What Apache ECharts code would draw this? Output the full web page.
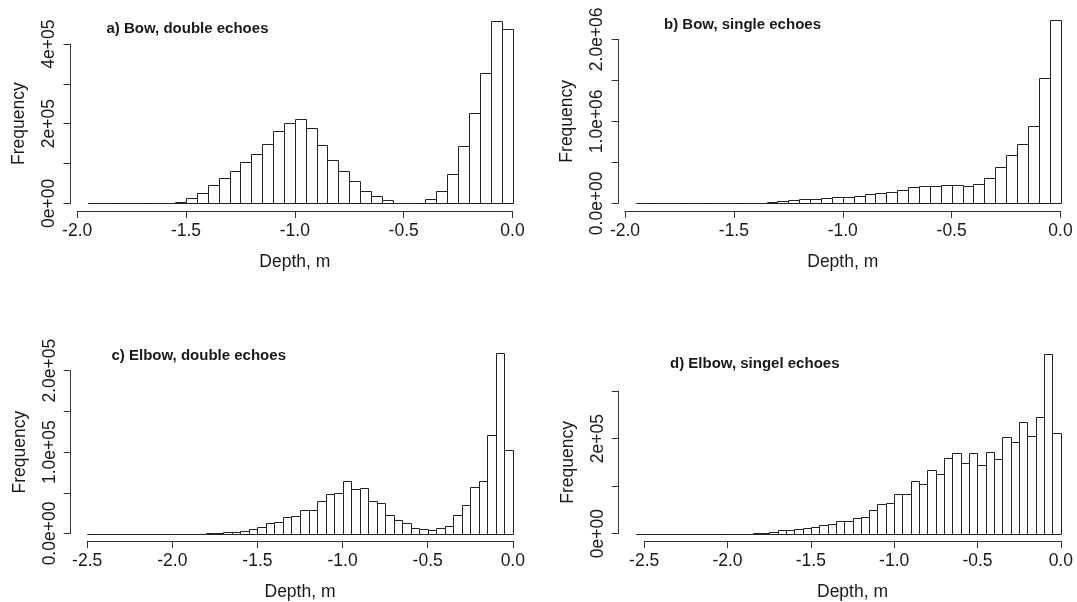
<!DOCTYPE html>
<html><head><meta charset="utf-8">
<script src="https://cdn.jsdelivr.net/npm/echarts@6/dist/echarts.min.js"></script>
<style>html,body{margin:0;padding:0;background:#fff}#c{width:1077px;height:602px}</style>
</head><body><div id="c"></div>
<script>
// ---------- data ----------
const binWidth = 0.05;
const startA = -1.95, startB = -1.95, startC = -2.5, startD = -2.55;

const countsA = [0,0,0,0,0,0,
  1000,2000,4000,12500,27000,46000,63000,82000,105000,123000,148000,182000,203000,211000,
  188000,146000,108000,82000,55000,32000,18000,7500,1500,1000,1000,10000,30000,73000,
  143000,228000,328000,459000,437000];
const countsB = [0,0,0,0,0,0,0,0,0,
  2000,3000,4000,16000,25000,37000,49000,49000,61000,78000,78000,90000,114000,127000,
  143000,159000,196000,216000,216000,224000,224000,216000,233000,306000,441000,584000,
  727000,943000,1531000,2237000];
const countsC = [0,0,0,0,0,0,0,0,0,0,0,0,0,0,
  800,1000,2000,2400,3600,6000,8000,12900,14500,20000,21000,29000,29000,40300,48800,49600,
  64500,55200,56000,40300,37500,22600,16900,12900,6500,5600,4400,7300,9300,22600,34700,
  56900,64900,120600,222000,102800];
const countsD = [0,0,0,0,0,0,0,0,0,0,0,0,0,0,
  1400,2000,4000,7000,7500,10000,12000,14000,19000,21000,27000,26000,34000,36000,49000,
  63000,64000,84000,84000,110000,104000,133000,126000,160000,170000,149000,170000,145000,
  172000,156000,203000,192000,234000,205000,246000,377000,212000];

const yTickValuesA = [0, 200000, 400000];
const yTickLabelsA = ['0e+00', '2e+05', '4e+05'];
const yTickValuesB = [0, 1000000, 2000000];
const yTickLabelsB = ['0.0e+00', '1.0e+06', '2.0e+06'];
const yTickValuesC = [0, 100000, 200000];
const yTickLabelsC = ['0.0e+00', '1.0e+05', '2.0e+05'];
const yTickValuesD = [0, 200000];
const yTickLabelsD = ['0e+00', '2e+05'];

const titles = ['a) Bow, double echoes', 'b) Bow, single echoes',
                'c) Elbow, double echoes', 'd) Elbow, singel echoes'];
const xName = 'Depth, m';
const yName = 'Frequency';

// ---------- layout ----------
const panels = [
  {start:startA, counts:countsA, yv:yTickValuesA, yl:yTickLabelsA,
   grid:{left:77.2, top:44.1, width:435.3, height:159.2}, xMin:-2, yMax:400000, yInt:100000,
   xOff:7.7, yOff:6.7, tl:[106.5, 21.5]},
  {start:startB, counts:countsB, yv:yTickValuesB, yl:yTickLabelsB,
   grid:{left:625, top:39.3, width:435.5, height:164}, xMin:-2, yMax:2000000, yInt:500000,
   xOff:7.6, yOff:6.5, tl:[664, 17]},
  {start:startC, counts:countsC, yv:yTickValuesC, yl:yTickLabelsC,
   grid:{left:87.2, top:370.7, width:425.6, height:165.3}, xMin:-2.5, yMax:200000, yInt:50000,
   xOff:7.5, yOff:16.5, tl:[111.5, 348]},
  {start:startD, counts:countsD, yv:yTickValuesD, yl:yTickLabelsD,
   grid:{left:644.2, top:391, width:416.6, height:145}, xMin:-2.5, yMax:300000, yInt:100000,
   xOff:7.3, yOff:25.5, tl:[670, 356]}
];

const FONT = '"Liberation Sans", Arial, sans-serif';
const LINE = '#333';
const TXT = '#1a1a1a';

function bins(start, counts) {
  return counts.map((c, i) => [+(start + i * binWidth).toFixed(2), +(start + (i + 1) * binWidth).toFixed(2), c]);
}

const option = {
  animation: false,
  backgroundColor: '#fff',
  title: panels.map((p, i) => ({
    text: titles[i], left: p.tl[0], top: p.tl[1], padding: 0,
    textStyle: {fontFamily: FONT, fontWeight: 'bold', fontSize: 15, color: TXT}
  })),
  grid: panels.map(p => Object.assign({containLabel: false}, p.grid)),
  xAxis: panels.map((p, i) => ({
    type: 'value', gridIndex: i, min: p.xMin, max: 0, interval: 0.5,
    position: 'bottom', offset: p.xOff,
    name: xName, nameLocation: 'middle', nameGap: 42,
    nameTextStyle: {fontFamily: FONT, fontSize: 17.5, color: TXT},
    axisLine: {show: true, onZero: false, lineStyle: {color: LINE, width: 1}},
    axisTick: {show: true, length: 7, lineStyle: {color: LINE}},
    axisLabel: {margin: 11, fontFamily: FONT, fontSize: 17.5, color: TXT,
      formatter: v => v.toFixed(1), showMinLabel: true, showMaxLabel: true},
    splitLine: {show: false}
  })),
  yAxis: panels.map((p, i) => ({
    type: 'value', gridIndex: i, min: 0, max: p.yMax, interval: p.yInt,
    position: 'left', offset: p.yOff,
    name: yName, nameLocation: 'middle', nameGap: 42, nameRotate: 90,
    nameTextStyle: {fontFamily: FONT, fontSize: 17.5, color: TXT},
    axisLine: {show: true, onZero: false, lineStyle: {color: LINE, width: 1}},
    axisTick: {show: true, length: 7, lineStyle: {color: LINE}},
    axisLabel: {margin: 12, rotate: 90, fontFamily: FONT, fontSize: 17.5, color: TXT,
      formatter: v => { const k = p.yv.indexOf(v); return k >= 0 ? p.yl[k] : ''; }},
    splitLine: {show: false}
  })),
  series: panels.map((p, i) => ({
    type: 'custom', xAxisIndex: i, yAxisIndex: i, clip: false,
    data: bins(p.start, p.counts),
    encode: {x: [0, 1], y: 2},
    renderItem: function (params, api) {
      const a = api.coord([api.value(0), 0]);
      const b = api.coord([api.value(1), api.value(2)]);
      const x0 = Math.round(a[0]) + 0.5, x1 = Math.round(b[0]) + 0.5;
      const y0 = Math.round(a[1]) + 0.5, y1 = Math.round(b[1]) + 0.5;
      return {type: 'rect', shape: {x: x0, y: y1, width: x1 - x0, height: y0 - y1},
        style: {fill: '#fff', stroke: '#222', lineWidth: 1}};
    }
  }))
};

const chart = echarts.init(document.getElementById('c'), null, {renderer: 'canvas'});
chart.setOption(option);
</script>
</body></html>
